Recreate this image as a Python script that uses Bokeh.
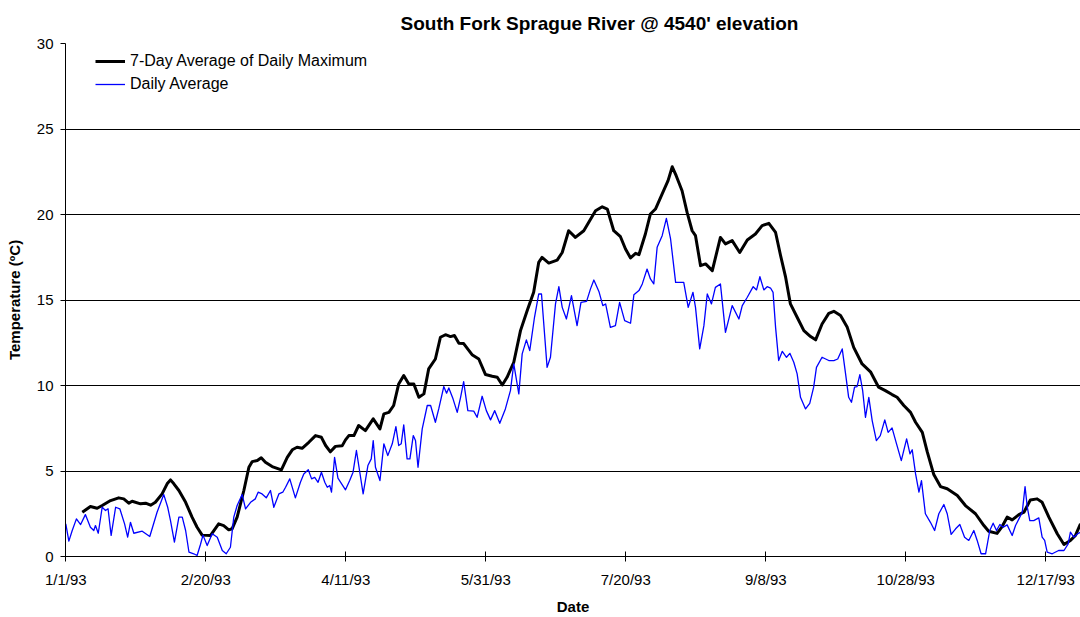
from bokeh.plotting import figure
from bokeh.models import Range1d, FixedTicker, Legend, LegendItem
from bokeh.embed import file_html
from bokeh.resources import INLINE

# ---- data (day of year 1993, 0 = 1/1/93) ----
max7_day = [5.9, 8.8, 11.2, 13.0, 16.0, 18.9, 20.7, 22.5, 23.7, 26.7, 28.5, 30.3, 32.0, 34.4, 36.2,
            37.4, 38.6, 40.4, 42.8, 45.1, 46.9, 48.7, 51.7, 54.6, 56.4, 58.2, 59.4, 61.2, 63.6, 65.4,
            66.6, 68.4, 69.8, 71.3, 73.7, 77.0, 79.1, 80.9, 82.6, 84.4, 86.8, 89.2, 91.3, 92.8, 94.5,
            96.3, 98.7, 99.9, 101.1, 102.9, 104.6, 107.0, 109.8, 112.2, 113.6, 115.4, 117.1, 118.9,
            120.7, 122.5, 124.3, 126.1, 127.9, 129.6, 132.0, 133.8, 135.6, 137.4, 138.8, 140.4, 142.1,
            145.1, 147.5, 149.9, 152.3, 154.1, 155.9, 157.6, 160.0, 162.4, 164.8, 167.1, 168.9, 170.1,
            172.5, 175.5, 177.3, 179.6, 182.0, 185.0, 189.2, 191.6, 193.4, 195.7, 198.1, 199.9, 201.7,
            203.5, 204.7, 207.0, 208.8, 210.6, 213.0, 215.1, 216.6, 218.0, 220.1, 221.9, 223.7, 224.9,
            226.7, 228.5, 230.9, 233.8, 235.6, 238.0, 240.7, 243.4, 246.3, 248.7, 251.1, 253.5, 255.3,
            257.1, 258.8, 261.2, 263.6, 266.0, 267.8, 270.1, 272.5, 274.3, 276.7, 279.1, 281.4, 284.4,
            287.4, 290.3, 292.7, 295.1, 296.9, 299.3, 301.7, 303.5, 305.9, 307.7, 310.0, 312.4, 314.8,
            318.4, 321.3, 324.9, 327.9, 329.6, 332.6, 334.4, 336.2, 338.0, 340.4, 342.2, 344.5, 346.9,
            348.7, 351.1, 354.1, 356.5, 358.8, 360.6, 362.4]
max7_val = [2.59, 2.92, 2.82, 2.98, 3.27, 3.43, 3.37, 3.12, 3.23, 3.08, 3.12, 3.00, 3.17, 3.66, 4.25,
            4.48, 4.25, 3.86, 3.17, 2.30, 1.71, 1.25, 1.23, 1.91, 1.81, 1.56, 1.62, 2.30, 3.86, 5.22,
            5.55, 5.61, 5.77, 5.51, 5.26, 5.07, 5.80, 6.24, 6.39, 6.33, 6.68, 7.07, 6.97, 6.49, 6.12,
            6.44, 6.47, 6.82, 7.07, 7.07, 7.66, 7.36, 8.05, 7.46, 8.34, 8.43, 8.83, 10.09,
            10.58, 10.09, 10.09, 9.31, 9.51, 10.97, 11.55, 12.82, 12.97, 12.86, 12.92, 12.47, 12.45,
            11.80, 11.55, 10.64, 10.54, 10.48, 10.03, 10.48, 11.36, 13.21, 14.38, 15.45, 17.20, 17.49,
            17.16, 17.33, 17.78, 19.05, 18.66, 19.05, 20.22, 20.45, 20.32, 19.05, 18.70, 17.98, 17.46,
            17.73, 17.65, 18.86, 20.03, 20.32, 21.20, 21.98, 22.79, 22.27, 21.39, 20.12, 19.05, 18.76,
            17.01, 17.11, 16.72, 18.66, 18.28, 18.47, 17.78, 18.51, 18.86, 19.35, 19.48, 18.95, 17.59,
            16.32, 14.77, 13.99, 13.21, 12.86, 12.67, 13.60, 14.22, 14.34, 14.09, 13.40, 12.23, 11.26,
            10.80, 9.90, 9.70, 9.47, 9.31, 8.83, 8.43, 7.85, 7.26, 6.10, 4.79, 4.09, 3.96,
            3.57, 2.98, 2.50, 1.81, 1.48, 1.35, 1.75, 2.30, 2.14, 2.45, 2.59, 3.31, 3.37,
            3.17, 2.30, 1.33, 0.70, 0.94, 1.23, 1.91]

avg_day = [0.0, 1.1, 2.3, 3.8, 5.3, 7.0, 8.8, 10.0, 10.6, 11.6, 13.0, 14.2, 15.1, 16.2, 17.8, 19.3,
           21.0, 22.1, 23.1, 24.3, 27.3, 30.0, 32.6, 35.0, 36.4, 37.4, 38.8, 40.4, 41.6, 42.8, 44.0,
           45.7, 46.9, 48.1, 49.0, 50.5, 52.3, 54.1, 55.9, 57.3, 58.8, 60.0, 61.2, 63.0, 64.2, 66.0,
           67.7, 68.7, 70.1, 71.6, 73.1, 74.3, 76.1, 77.5, 78.5, 80.0, 82.0, 83.8, 85.0, 86.6, 87.8,
           88.9, 90.1, 91.3, 92.5, 93.4, 94.3, 94.9, 96.0, 97.2, 99.9, 101.4, 102.6, 103.8, 106.2,
           107.9, 109.1, 109.8, 110.6, 112.2, 113.6, 115.0, 116.6, 117.9, 118.9, 119.8, 120.7, 121.9,
           122.9, 124.1, 124.9, 125.8, 127.3, 129.1, 130.3, 132.0, 133.2, 135.0, 136.0, 136.8, 138.3,
           139.8, 141.0, 142.1, 143.6, 145.7, 146.9, 148.7, 150.2, 151.7, 153.2, 155.0, 157.0, 158.8,
           160.0, 161.8, 163.0, 164.5, 165.7, 167.4, 168.9, 169.9, 171.9, 173.1, 174.9, 176.1, 177.3,
           178.8, 180.6, 182.6, 184.0, 186.0, 187.4, 188.6, 190.4, 191.8, 192.8, 194.5, 196.3, 197.8,
           199.6, 201.7, 202.9, 204.7, 205.9, 207.6, 208.8, 210.0, 211.2, 213.0, 214.5, 216.0, 217.8,
           220.7, 222.3, 224.0, 224.9, 226.4, 227.9, 229.1, 230.6, 232.0, 233.8, 235.6, 238.0, 240.4,
           241.6, 243.4, 245.5, 246.7, 247.9, 249.3, 250.5, 251.7, 252.6, 253.5, 254.6, 255.9, 257.4,
           258.6, 260.0, 261.2, 262.4, 264.2, 265.7, 267.1, 268.1, 270.1, 272.5, 274.3, 275.7, 277.3,
           278.5, 279.6, 280.6, 281.7, 282.6, 283.6, 284.6, 285.6, 286.8, 288.0, 289.5, 290.9, 292.5,
           293.7, 295.1, 296.7, 298.4, 300.3, 301.5, 302.3, 303.5, 304.7, 305.6, 307.0, 308.8, 310.3,
           311.8, 313.6, 314.8, 316.2, 317.8, 319.3, 321.0, 322.5, 324.3, 325.5, 326.9, 328.5, 330.0,
           331.2, 332.4, 333.6, 334.8, 336.2, 338.0, 339.2, 340.4, 341.6, 342.6, 343.4, 344.3, 345.7,
           347.5, 348.7, 349.6, 350.5, 352.3, 354.6, 356.5, 358.0, 358.8, 360.0, 361.4, 362.4]
avg_val = [1.91, 0.90, 1.52, 2.20, 1.87, 2.45, 1.71, 1.52, 1.81, 1.36, 2.88, 2.69, 2.79, 1.23, 2.88, 2.79,
           1.91, 1.13, 2.00, 1.36, 1.48, 1.17, 2.59, 3.62, 2.88, 2.10, 0.84, 2.30, 2.30, 1.52, 0.25,
           0.16, 0.06, 0.70, 1.25, 0.64, 1.33, 1.13, 0.35, 0.16, 0.54, 2.30, 2.98, 3.62, 2.79, 3.17,
           3.37, 3.76, 3.66, 3.43, 3.86, 2.88, 3.66, 3.76, 4.05, 4.54, 3.43, 4.34, 4.83, 5.07, 4.54,
           4.63, 4.34, 4.93, 4.34, 4.05, 4.15, 3.76, 5.80, 4.58, 3.90, 4.44, 4.93, 6.20, 3.66,
           5.32, 5.71, 6.78, 5.22, 4.44, 6.59, 5.90, 6.59, 7.60, 6.49, 6.59, 7.70, 5.71,
           5.71, 7.07, 6.78, 5.22, 7.46, 8.83, 8.83, 7.85, 8.63, 9.94, 9.55, 9.86, 9.22,
           8.43, 9.31, 10.23, 8.53, 8.50, 8.14, 9.37, 8.53, 7.99, 8.53, 7.79, 8.63, 9.70,
           11.26, 9.51, 11.85, 12.67, 12.04, 13.99, 15.35, 15.35, 11.06, 11.65, 14.77, 15.78, 14.57,
           13.89, 15.25, 13.50, 14.86, 14.92, 15.65, 16.17, 15.50, 14.67, 14.77, 13.40, 13.50, 14.86,
           13.79, 13.64, 15.31, 15.55, 15.94, 16.81, 16.23, 15.94, 18.08, 18.76, 19.77, 18.57, 16.03,
           16.03, 14.57, 15.45, 14.57, 12.14, 13.50, 15.35, 14.77, 15.74, 15.94, 13.11, 14.67, 13.89,
           14.67, 15.16, 15.78, 15.59, 16.36, 15.59, 15.78, 15.70, 15.45, 13.40, 11.46, 12.00, 11.65,
           11.88, 11.36, 10.68, 9.31, 8.63, 8.96, 9.90, 11.06, 11.65, 11.46, 11.46, 11.55, 12.14,
           10.68, 9.31, 9.02, 9.90, 9.94, 10.64, 9.70, 8.14, 9.31, 7.95, 6.78, 7.07, 7.99,
           7.26, 7.52, 6.59, 5.61, 6.88, 6.00, 6.24, 4.83, 3.76, 4.44, 2.50, 2.00, 1.52,
           2.50, 3.04, 2.50, 1.29, 1.62, 1.87, 1.13, 0.94, 1.52, 0.94, 0.16, 0.16, 1.52,
           1.95, 1.52, 1.87, 1.71, 1.85, 1.23, 1.81, 2.20, 2.59, 4.09, 2.88, 2.10, 2.10,
           2.26, 1.13, 0.94, 0.25, 0.16, 0.35, 0.35, 0.74, 1.42, 1.13, 1.33, 1.42]

tick_days = [0, 50, 100, 150, 200, 250, 300, 350]
tick_labels = ["1/1/93", "2/20/93", "4/11/93", "5/31/93", "7/20/93", "9/8/93", "10/28/93", "12/17/93"]
y_ticks = [0, 5, 10, 15, 20, 25, 30]

FONT = "Liberation Sans"

p = figure(width=1080, height=617, output_backend="svg", toolbar_location=None,
           x_range=Range1d(-0.1, 362.4), y_range=Range1d(0, 30),
           min_border_left=65, min_border_right=0, min_border_top=43, min_border_bottom=61)
p.outline_line_color = None
p.background_fill_color = "white"

p.title.text = "South Fork Sprague River @ 4540' elevation"
p.title.text_font = FONT
p.title.text_font_size = "19px"
p.title.text_font_style = "bold"
p.title.text_color = "black"
p.title.align = "left"
p.title.offset = 335
p.title.standoff = 20

# axes
xa = p.xaxis[0]
xa.ticker = FixedTicker(ticks=tick_days)
xa.major_label_overrides = {d: l for d, l in zip(tick_days, tick_labels)}
xa.major_tick_in = 5
xa.major_tick_out = 5
xa.minor_tick_line_color = None
xa.major_label_standoff = 9
xa.major_label_text_font = FONT
xa.major_label_text_font_size = "15px"
xa.major_label_text_color = "black"
xa.axis_label = "Date"
xa.axis_label_text_font = FONT
xa.axis_label_text_font_size = "15px"
xa.axis_label_text_font_style = "bold"
xa.axis_label_text_color = "black"
xa.axis_label_standoff = 7
xa.axis_line_color = "black"
xa.major_tick_line_color = "black"

ya = p.yaxis[0]
ya.ticker = FixedTicker(ticks=y_ticks)
ya.major_tick_in = 0
ya.major_tick_out = 5
ya.minor_tick_line_color = None
ya.major_label_standoff = 7
ya.major_label_text_font = FONT
ya.major_label_text_font_size = "15px"
ya.major_label_text_color = "black"
ya.axis_label = "Temperature (ºC)"
ya.axis_label_text_font = FONT
ya.axis_label_text_font_size = "15px"
ya.axis_label_text_font_style = "bold"
ya.axis_label_text_color = "black"
ya.axis_label_standoff = 11
ya.axis_line_color = "black"
ya.major_tick_line_color = "black"

p.xgrid.visible = False
p.ygrid.ticker = FixedTicker(ticks=y_ticks)
p.ygrid.grid_line_color = "black"
p.ygrid.grid_line_width = 1
p.ygrid.grid_line_alpha = 1

r_max = p.line(max7_day, max7_val, line_color="black", line_width=3, line_join="round")
r_avg = p.line(avg_day, avg_val, line_color="#0000FF", line_width=1.3, line_join="round")

legend = Legend(items=[LegendItem(label="7-Day Average of Daily Maximum", renderers=[r_max]),
                       LegendItem(label="Daily Average", renderers=[r_avg])],
                location=(30, 462), border_line_color=None, background_fill_alpha=0,
                label_text_font=FONT, label_text_font_size="16px", label_text_color="black",
                glyph_width=30, glyph_height=20, label_height=20, label_standoff=5,
                spacing=3, padding=0, margin=0)
p.add_layout(legend)

open("out.html", "w").write(file_html(p, INLINE))
